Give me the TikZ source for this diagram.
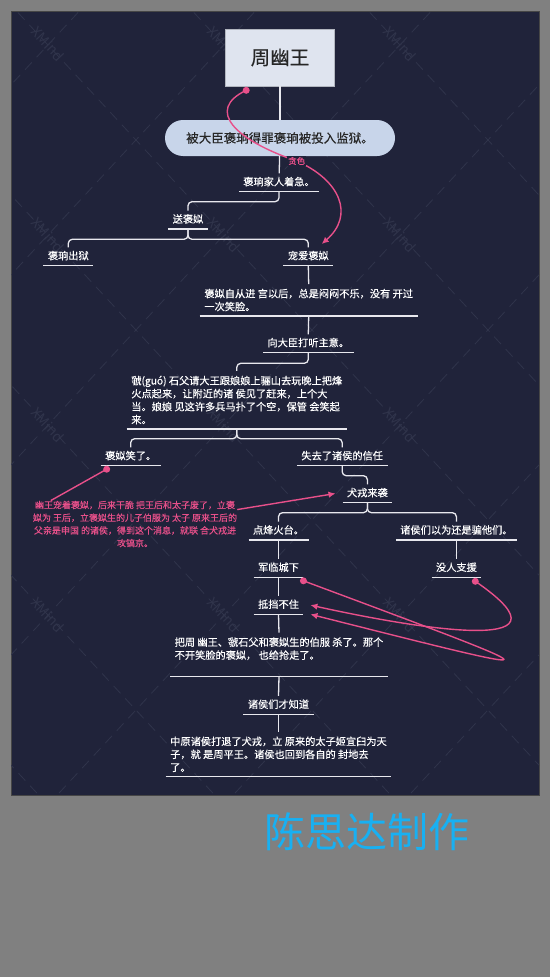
\documentclass[tikz,border=0pt]{standalone}
\usepackage{fontspec}
\newfontfamily\cjk{Noto Sans CJK SC}
\newfontfamily\cjkb[FakeBold=0.3]{Noto Sans CJK SC}
\usepackage{xcolor}
\usetikzlibrary{arrows.meta, calc, positioning}
\definecolor{bgray}{HTML}{808080}
\definecolor{panel}{HTML}{20233A}
\definecolor{rosy}{HTML}{E8508A}
\definecolor{boxlight}{HTML}{DFE4EF}
\definecolor{boxblue}{HTML}{C8D5EA}
\definecolor{skyblue}{HTML}{18B0F2}
\definecolor{linew}{HTML}{E8E8EE}
\definecolor{wmark}{HTML}{30344B}
\tikzset{
  rootbox/.style ={draw=black!20!boxlight, line width=0.6pt, fill=boxlight, minimum width=109pt, minimum height=57pt, font=\cjkb\fontsize{19.5}{22}\selectfont, text=black!85},
  pill/.style    ={fill=boxblue, rounded corners=18pt, minimum width=230pt, minimum height=36pt, font=\cjkb\fontsize{12.5}{15}\selectfont, text=black!85},
  topic/.style   ={anchor=south, inner xsep=4.3pt, inner ysep=4pt, text height=8pt, text depth=2pt, font=\cjkb\fontsize{10.2}{13}\selectfont, text=white},
  para/.style    ={anchor=south, align=left, inner xsep=4.5pt, inner ysep=4.5pt, font=\cjkb\fontsize{10.2}{13}\selectfont, text=white},
  uline/.style   ={draw=linew, line width=1.3pt},
  conn/.style    ={draw=linew, line width=1.3pt, rounded corners=4pt},
  rel/.style     ={draw=rosy, line width=1.4pt},
  relarr/.style  ={rel, -{Latex[length=7pt,width=6.5pt]}},
  dot/.style     ={circle, fill=rosy, minimum size=7pt, inner sep=0pt},
  note/.style    ={align=center, text=rosy, font=\cjkb\fontsize{9}{12.7}\selectfont, inner sep=0pt},
  wm/.style      ={text=wmark, font=\cjk\fontsize{14}{14}\selectfont, rotate=-47},
}
\begin{document}
\begin{tikzpicture}[x=1pt, y=-1pt]
  \useasboundingbox (0,0) rectangle (550,977);
  \fill[bgray] (0,0) rectangle (550,977);
  \fill[panel] (11,11) rectangle (539,795);
  \draw[black!45!gray, line width=0.8pt] (11,11) rectangle (539,795);

  % watermark
  \begin{scope}
    \clip (11,11) rectangle (539,795);
    \foreach \c in {-697.7,-521.7,...,540} \draw[wmark, dash pattern=on 10pt off 7pt, line width=0.8pt] (\c,0) -- ++(741,800);
    \foreach \c in {89.6,265.6,...,1150} \draw[wmark, dash pattern=on 10pt off 7pt, line width=0.8pt] (\c,0) -- ++(-741,800);
    \foreach \x in {48,224,400} \foreach \y in {44,235,425,615} \node[wm] at (\x,\y) {XMind};
  \end{scope}

  % main chain
  \node[rootbox] (root) at (280,57.5) {周幽王};
  \node[pill] (jail) at (280,138) {被大臣褒珦得罪褒珦被投入监狱。};
  \node[topic] (jiaren) at (279,191.7) {褒珦家人着急。};
  \node[topic] (songsi) at (188,229) {送褒姒};
  \node[topic] (chuyu) at (68.3,265.7) {褒珦出狱};
  \node[topic] (chongai) at (308.3,265.7) {宠爱褒姒};
  \node[para] (zicong) at (308.7,316) {褒姒自从进 宫以后，总是闷闷不乐，没有 开过\\一次笑脸。};
  \node[topic] (dating) at (308.3,352.7) {向大臣打听主意。};
  \node[para] (lishan) at (236.8,429) {虢(guó) 石父请大王跟娘娘上骊山去玩晚上把烽\\火点起来，让附近的诸 侯见了赶来，上个大\\当。娘娘 见这许多兵马扑了个空，保管 会笑起\\来。};
  \node[topic] (xiaole) at (130.7,465.7) {褒姒笑了。};
  \node[topic] (shiqu) at (342.2,465.7) {失去了诸侯的信任};
  \node[topic] (quanrong) at (367.4,502.7) {犬戎来袭};
  \node[topic] (dianhuo) at (278.5,540) {点烽火台。};
  \node[topic] (pian) at (456.4,540) {诸侯们以为还是骗他们。};
  \node[topic] (chengxia) at (278.5,577.3) {军临城下};
  \node[topic] (meiren) at (456.4,577.3) {没人支援};
  \node[topic] (didang) at (278.5,614.3) {抵挡不住};
  \node[para] (shale) at (279,676.7) {把周 幽王、虢石父和褒姒生的伯服 杀了。那个\\不开笑脸的褒姒， 也给抢走了。\\\mbox{}};
  \node[topic] (zhidao) at (278.5,714.3) {诸侯们才知道};
  \node[para] (pingwang) at (278.5,776.7) {中原诸侯打退了犬戎，立 原来的太子姬宜臼为天\\子，就 是周平王。诸侯也回到各自的 封地去\\了。};

  \foreach \n in {jiaren,songsi,chuyu,chongai,zicong,dating,lishan,xiaole,shiqu,quanrong,dianhuo,pian,chengxia,meiren,didang,shale,zhidao,pingwang}
    \draw[uline] (\n.south west) -- (\n.south east);

  \draw[conn] (root) -- (jail);
  \draw[conn] (jail) -- (jiaren);
  \draw[conn] (jiaren.south) -- ++(0,10) -| (songsi.north);
  \draw[conn] (songsi.south) -- ++(0,10.3) -| (chuyu.north);
  \draw[conn] (songsi.south) -- ++(0,10.3) -| (chongai.north);
  \draw[conn] (chongai.south) -- (zicong.north);
  \draw[conn] (zicong.south) -- (dating.north);
  \draw[conn] (dating.south) -- ++(0,10.6) -| (lishan.north);
  \draw[conn] (lishan.south) -- ++(0,9.7) -| (xiaole.north);
  \draw[conn] (lishan.south) -- ++(0,9.7) -| (shiqu.north);
  \draw[conn] (shiqu.south) -- ++(0,10) -| (quanrong.north);
  \draw[conn] (quanrong.south) -- ++(0,10) -| (dianhuo.north);
  \draw[conn] (quanrong.south) -- ++(0,10) -| (pian.north);
  \draw[conn] (dianhuo.south) -- (chengxia.north);
  \draw[conn] (pian.south) -- (meiren.north);
  \draw[conn] (chengxia.south) -- (didang.north);
  \draw[conn] (didang.south) -- (shale.north);
  \draw[conn] (shale.south) -- (zhidao.north);
  \draw[conn] (zhidao.south) -- (pingwang.north);

  % relationships
  \node[dot] (d1) at ([xshift=21pt,yshift=-4pt]root.south west) {};
  \coordinate (tmid) at (296.7,161);
  \coordinate (tip1) at (321.7,244);
  \draw[relarr] (d1.center) .. controls (205,110) and (235,140) .. (tmid) .. controls (340,180) and (355,215) .. (tip1);
  \node[fill=panel, text=rosy, font=\cjkb\fontsize{8.5}{10}\selectfont, inner sep=1pt] (tanse) at (tmid) {贪色};

  \node[dot] (d2) at ([xshift=6pt,yshift=-3.5pt]xiaole.south west) {};
  \node[note] (note) at (135,524) {幽王宠着褒姒，后来干脆 把王后和太子废了，立褒\\姒为 王后，立褒姒生的儿子伯服为 太子 原来王后的\\父亲是申国 的诸侯，得到这个消息，就联 合犬戎进\\攻镐京。};
  \draw[rel] (d2.center) -- ([xshift=18pt]note.north west);
  \draw[relarr] ([yshift=-9pt]note.north east) -- ([xshift=-7pt]quanrong.west);

  \node[dot] (d3) at ([yshift=-3.5pt]chengxia.south east) {};
  \node[dot] (d4) at ([xshift=-6pt,yshift=-4pt]meiren.south east) {};
  \draw[relarr] (d3.center) .. controls (568.5,679.5) and (568.5,679.5) .. ([xshift=7pt]didang.south east);
  \draw[relarr] (d4.center) .. controls (590,660) and (400,625) .. ([xshift=7pt]didang.east);

  \node[text=skyblue, font=\cjk\fontsize{41}{44}\selectfont, inner sep=0pt] (maker) at (367,832) {陈思达制作};
\end{tikzpicture}
\end{document}
